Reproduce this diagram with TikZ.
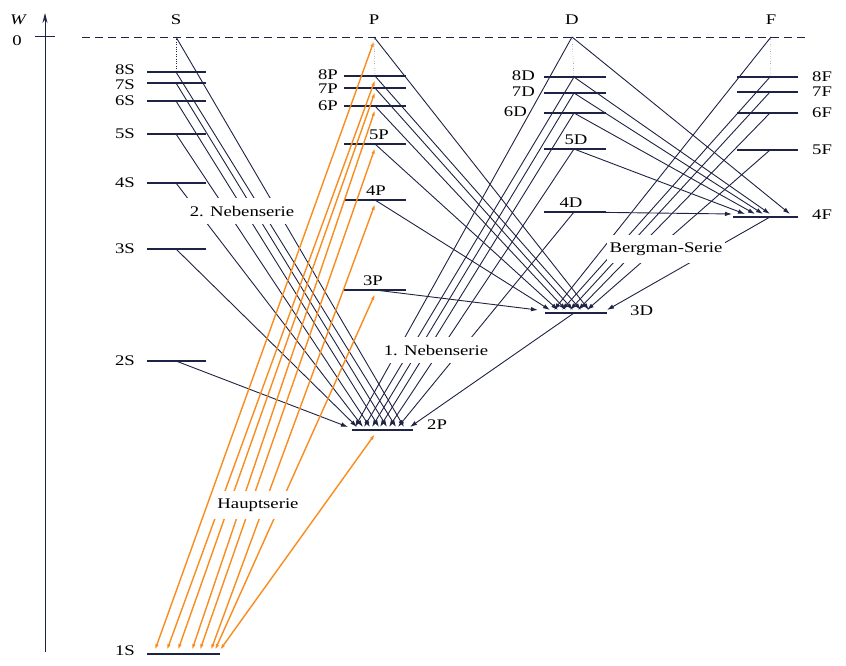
\documentclass[tikz,border=0pt]{standalone}
\usepackage{fontspec}
\setmainfont{Liberation Serif}
\usetikzlibrary{arrows.meta,calc}

\definecolor{ink}{RGB}{30,34,68}
\definecolor{hcol}{RGB}{248,140,30}

\newcommand{\wide}[1]{\scalebox{1.17}[0.92]{#1}}

\tikzset{
  lvl/.style={ink, line width=2.4pt},
  trans/.style={ink, line width=0.9pt, -{Latex[length=7pt,width=4.5pt]}},
  hline/.style={hcol, line width=1.4pt, {Latex[length=6pt,width=3.5pt]}-{Latex[length=6pt,width=3.5pt]}},
  serie/.style={fill=white, inner xsep=3pt, inner ysep=8pt}
}

\begin{document}
\begin{tikzpicture}[x=1pt,y=-1pt,font=\fontsize{16}{18}\selectfont,inner sep=3pt]
\useasboundingbox (0,0) rectangle (846,666);

\draw[ink, line width=1pt, -{Stealth[length=10pt,width=5pt]}] (45,652) -- (45,13);
\draw[ink, line width=1pt] (35,37) -- (55,37);
\node (w) at (18,20) {\wide{\itshape W}};
\node (null) at (17,41) {\wide{0}};
\draw[ink, line width=0.9pt, dash pattern=on 8pt off 5pt] (82,37) -- (808,37);

\foreach \c/\x in {S/176,P/374,D/572,F/771} {
  \coordinate (\c) at (\x,37);
  \node (head\c) at (\x,20) {\wide{\c}};
}

\foreach \n/\y/\dy in {8/72/-2,7/83/1.5,6/101/0,5/134/0,4/183/0,3/249/0,2/361/0} {
  \coordinate (s\n) at (176,\y);
  \draw[lvl] ($(s\n)+(-29,0)$) -- ($(s\n)+(30,0)$);
  \node[anchor=east] (ls\n) at ($(s\n)+(-38,\dy)$) {\wide{\n S}};
}
\coordinate (s1) at (176,654);
\draw[lvl] ($(s1)+(-29,0)$) -- ($(s1)+(44,0)$);
\node[anchor=east] (ls1) at ($(s1)+(-38,-3)$) {\wide{1S}};

\foreach \n/\y/\an/\dx/\dy in {8/76/east/-34/-1,7/88/east/-34/1,6/106/east/-34/0,5/144/south/4/-1,4/200/south/1/-1,3/290/south/-2/-1} {
  \coordinate (p\n) at (375,\y);
  \draw[lvl] ($(p\n)+(-31,0)$) -- ($(p\n)+(31,0)$);
  \node[anchor=\an] (lp\n) at ($(p\n)+(\dx,\dy)$) {\wide{\n P}};
}
\coordinate (p2) at (375,430);
\draw[lvl] ($(p2)+(-23,0)$) -- ($(p2)+(38,0)$);
\node[anchor=west] (lp2) at ($(p2)+(49,-5)$) {\wide{2P}};

\foreach \n/\y/\an/\dx in {8/77/east/-36,7/93/east/-36,6/113/east/-44,5/149/south/2,4/212/south/-3} {
  \coordinate (d\n) at (574,\y);
  \draw[lvl] ($(d\n)+(-30,0)$) -- ($(d\n)+(32,0)$);
  \node[anchor=\an] (ld\n) at ($(d\n)+(\dx,-1)$) {\wide{\n D}};
}
\coordinate (d3) at (574,313);
\draw[lvl] ($(d3)+(-29,0)$) -- ($(d3)+(33,0)$);
\node[anchor=west] (ld3) at ($(d3)+(53,-2)$) {\wide{3D}};

\foreach \n/\y in {8/77,7/92,6/113,5/150} {
  \coordinate (f\n) at (770,\y);
  \draw[lvl] ($(f\n)+(-33,0)$) -- ($(f\n)+(28,0)$);
  \node[anchor=west] (lf\n) at ($(f\n)+(39,0)$) {\wide{\n F}};
}
\coordinate (f4) at (770,217);
\draw[lvl] ($(f4)+(-37,0)$) -- ($(f4)+(28,0)$);
\node[anchor=west] (lf4) at ($(f4)+(39,-2)$) {\wide{4F}};

\draw[ink, dotted] (S) -- (s8);
\draw[ink, dotted] (P) -- (p8);
\draw[ink, dotted] (D) -- (d8);
\draw[ink, dotted] (F) -- (f8);

\foreach \a/\o in {S/29,s8/21,s7/12,s6/4,s5/-5,s4/-12,s3/-18,s2/-27}
  \draw[trans] (\a) -- ($(p2)+(\o,-3)$);
\foreach \a/\o in {D/-20,d8/-11,d7/-3,d6/5,d5/14,d4/23,d3/35}
  \draw[trans] (\a) -- ($(p2)+(\o,-3)$);
\foreach \a/\o in {P/15,p8/7,p7/-1,p6/-8,p5/-16,p4/-24,p3/-36}
  \draw[trans] (\a) -- ($(d3)+(\o,-3)$);
\foreach \a/\o in {F/-20,f8/-12,f7/-4,f6/4,f5/13,f4/33}
  \draw[trans] (\a) -- ($(d3)+(\o,-3)$);
\foreach \a/\o in {D/20,d8/0,d7/-7,d6/-15,d5/-25,d4/-38}
  \draw[trans] (\a) -- ($(f4)+(\o,-3)$);
\foreach \a/\o in {P/-21,p8/-9,p7/2,p6/16,p5/24,p4/35,p3/39,p2/44}
  \draw[hline] ($(\a)+(0,4)$) -- ($(s1)+(\o,-4)$);

\node[serie] (neben2) at (242,211) {\wide{2. Nebenserie}};
\node[serie] (neben1) at (436,350) {\wide{1. Nebenserie}};
\node[serie] (bergman) at (666,249) {\wide{Bergman-Serie}};
\node[serie] (haupt) at (258,505) {\wide{Hauptserie}};
\end{tikzpicture}
\end{document}
